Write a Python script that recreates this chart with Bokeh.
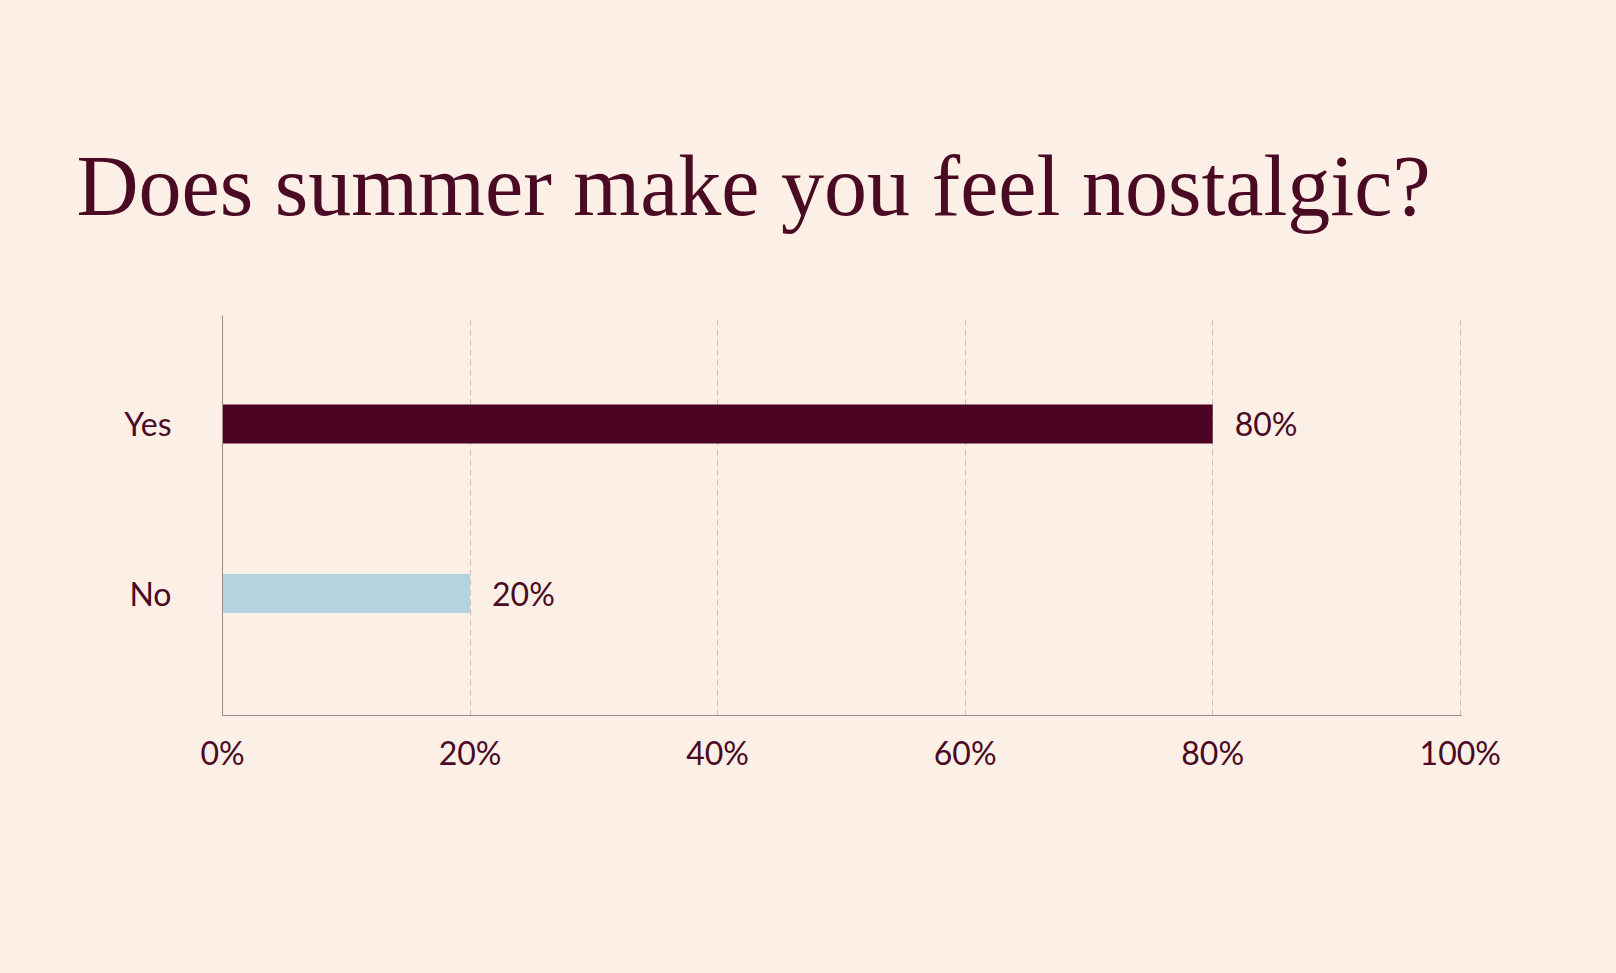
from bokeh.plotting import figure
from bokeh.models import Range1d, FixedTicker, PrintfTickFormatter
from bokeh.core.properties import value
from bokeh.embed import file_html
from bokeh.resources import INLINE

# ---- data ----
categories = ["No", "Yes"]          # bottom to top
percent_values = [20, 80]
bar_colors = ["#b5d3de", "#4d0422"]
value_labels = ["20%", "80%"]
x_ticks = [0, 20, 40, 60, 80, 100]
title_text = "Does summer make you feel nostalgic?"

BG = "#fcefe6"
INK = "#4a0a24"

# category slots on the y scale (derived from the category list)
slots = list(range(len(categories)))

p = figure(
    width=1616, height=973,
    y_range=Range1d(-0.72, len(categories) - 1 + 0.64),
    x_range=Range1d(0, 100.1),   # tiny headroom so the 100% grid line is drawn
    output_backend="svg", toolbar_location=None,
    min_border_left=222, min_border_right=155,
    min_border_top=315, min_border_bottom=258,
    background_fill_color=BG, border_fill_color=BG,
    outline_line_color=None,
)

p.title.text = title_text
p.title.text_font = "Liberation Serif"
p.title.text_font_size = "86px"
p.title.text_font_style = "normal"
p.title.text_color = INK
p.title.align = "left"
p.title.offset = -146
p.title.standoff = 164

p.hbar(y=slots, left=0, right=percent_values, height=0.23,
       color=bar_colors, line_color=None)

p.text(x=percent_values, y=slots, text=value_labels,
       x_offset=22, text_baseline="middle", text_align="left",
       text_font=value("Lato"), text_font_size="32px", text_color=INK)

# x axis
p.xaxis.ticker = FixedTicker(ticks=x_ticks)
p.xaxis.formatter = PrintfTickFormatter(format="%d%%")
p.xaxis.major_tick_line_color = None
p.xaxis.minor_tick_line_color = None
p.xaxis.major_label_standoff = 11
p.xaxis.major_label_text_font = "Lato"
p.xaxis.major_label_text_font_size = "32px"
p.xaxis.major_label_text_color = INK
p.xaxis.axis_line_color = "#a3878b"
p.xaxis.axis_line_width = 1

# y axis (category names)
p.yaxis.ticker = FixedTicker(ticks=slots, minor_ticks=[])
p.yaxis.major_label_overrides = {s: c for s, c in zip(slots, categories)}
p.yaxis.major_tick_line_color = None
p.yaxis.minor_tick_line_color = None
p.yaxis.major_label_standoff = 45
p.yaxis.major_label_text_font = "Lato"
p.yaxis.major_label_text_font_size = "32px"
p.yaxis.major_label_text_color = INK
p.yaxis.axis_line_color = "#a3878b"
p.yaxis.axis_line_width = 1

# grid
p.ygrid.grid_line_color = None
p.xgrid.grid_line_color = "#d2bcba"
p.xgrid.grid_line_dash = "6 4"
p.xgrid.grid_line_width = 1

html = file_html(p, INLINE)
html = html.replace("<head>", "<head><style>html, body { background-color: %s; }</style>" % BG, 1)
open("out.html", "w").write(html)
